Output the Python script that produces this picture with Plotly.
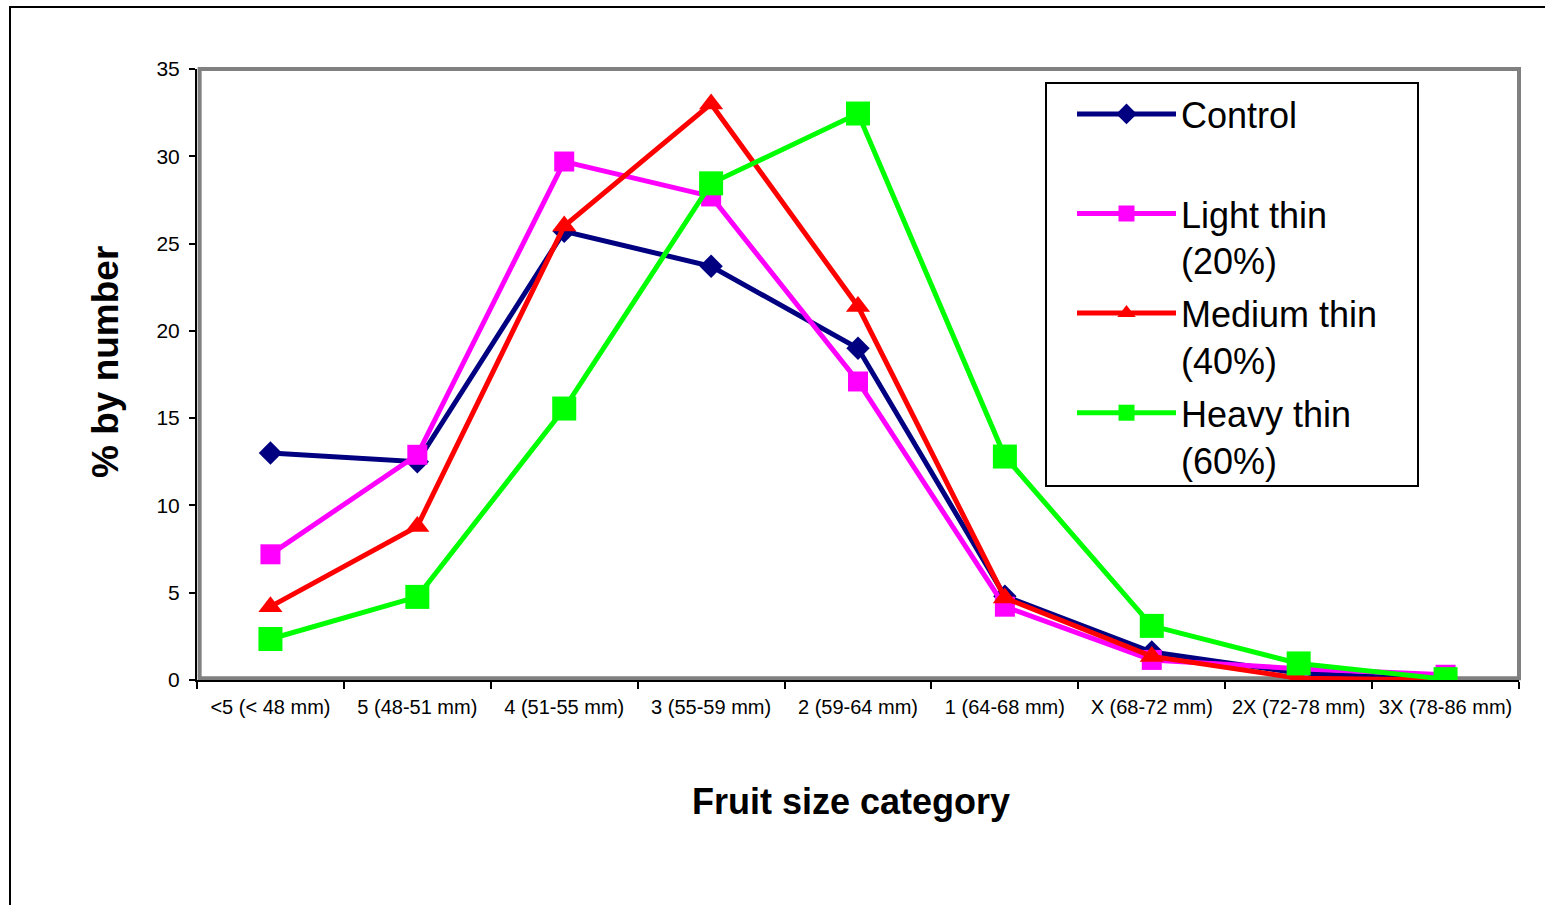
import plotly.graph_objects as go

# Fruit size distribution by thinning treatment
categories = ["<5 (< 48 mm)", "5 (48-51 mm)", "4 (51-55 mm)", "3 (55-59 mm)",
              "2 (59-64 mm)", "1 (64-68 mm)", "X (68-72 mm)", "2X (72-78 mm)",
              "3X (78-86 mm)"]
control = [13.0, 12.5, 25.7, 23.7, 19.0, 4.8, 1.6, 0.4, 0.0]
light_thin = [7.2, 12.9, 29.7, 27.7, 17.1, 4.2, 1.15, 0.65, 0.3]
medium_thin = [4.2, 8.8, 26.0, 33.0, 21.4, 4.7, 1.35, 0.1, 0.0]
heavy_thin = [2.35, 4.76, 15.55, 28.45, 32.45, 12.8, 3.1, 0.95, 0.05]

series = [
    ("Control<br> ", control, "#000080", "diamond", 18),
    ("Light thin<br>(20%)", light_thin, "#FF00FF", "square", 20),
    ("Medium thin<br>(40%)", medium_thin, "#FF0000", "triangle-up", 21),
    ("Heavy thin<br>(60%)", heavy_thin, "#00FF00", "square", 24),
]

fig = go.Figure()
for i, (name, values, color, symbol, size) in enumerate(series):
    fig.add_trace(go.Scatter(
        x=categories, y=values, name=name, mode="lines+markers",
        legendgroup=f"g{i}",
        line=dict(color=color, width=5),
        marker=dict(symbol=symbol, size=size, color=color,
                    line=dict(width=0)),
    ))

FONT = "Liberation Sans, Arial, sans-serif"
L, R, T, B = 197, 26, 69, 225
W, H = 1545, 905
pw, ph = W - L - R, H - T - B

def px_x(p):
    return (p - L) / pw

def px_y(p):
    return (H - B - p) / ph

fig.update_layout(
    width=W, height=H,
    margin=dict(l=L, r=R, t=T, b=B, pad=0, autoexpand=False),
    paper_bgcolor="white", plot_bgcolor="white",
    font=dict(family=FONT, color="black"),
    showlegend=True,
    legend=dict(
        x=px_x(1072), y=px_y(84), xanchor="left", yanchor="top",
        bgcolor="rgba(0,0,0,0)", borderwidth=0,
        font=dict(size=36, family=FONT, color="black"),
        valign="top", itemwidth=99,
        traceorder="grouped", tracegroupgap=3,
    ),
    xaxis=dict(
        type="category", range=[-0.5, 8.5], automargin=False,
        showline=True, linecolor="black", linewidth=2,
        ticks="outside", ticklen=7, tickwidth=2, tickcolor="black",
        tickson="boundaries", showgrid=False, zeroline=False,
        tickangle=0,
        tickfont=dict(size=20, family=FONT),
        ticklabelstandoff=8,
    ),
    yaxis=dict(
        range=[0, 35], dtick=5, automargin=False,
        showline=True, linecolor="black", linewidth=2,
        ticks="outside", ticklen=6, tickwidth=2, tickcolor="black",
        showgrid=False, zeroline=False,
        tickfont=dict(size=21, family=FONT),
        ticklabelstandoff=5,
    ),
    annotations=[
        dict(text="<b>Fruit size category</b>", xref="paper", yref="paper",
             x=px_x(851), y=px_y(802), xanchor="center", yanchor="middle",
             showarrow=False, font=dict(size=36, family=FONT, color="black")),
        dict(text="<b>% by number</b>", xref="paper", yref="paper",
             x=px_x(105), y=px_y(362), xanchor="center", yanchor="middle",
             textangle=-90, showarrow=False,
             font=dict(size=37, family=FONT, color="black")),
    ],
    shapes=[
        # grey plot-area frame
        dict(type="rect", xref="paper", yref="paper", x0=0.002, x1=1, y0=0.003, y1=1,
             line=dict(color="#808080", width=4), layer="below"),
        # legend box
        dict(type="rect", xref="paper", yref="paper",
             x0=px_x(1046), x1=px_x(1418), y0=px_y(486), y1=px_y(83),
             fillcolor="white", line=dict(color="black", width=2), layer="above"),
        # outer chart border (left and top edges)
        dict(type="path", xref="paper", yref="paper",
             path=f"M {px_x(10)} {px_y(910)} L {px_x(10)} {px_y(7)} L {px_x(1550)} {px_y(7)}",
             line=dict(color="black", width=2)),
    ],
)

fig.write_html("out.html")
